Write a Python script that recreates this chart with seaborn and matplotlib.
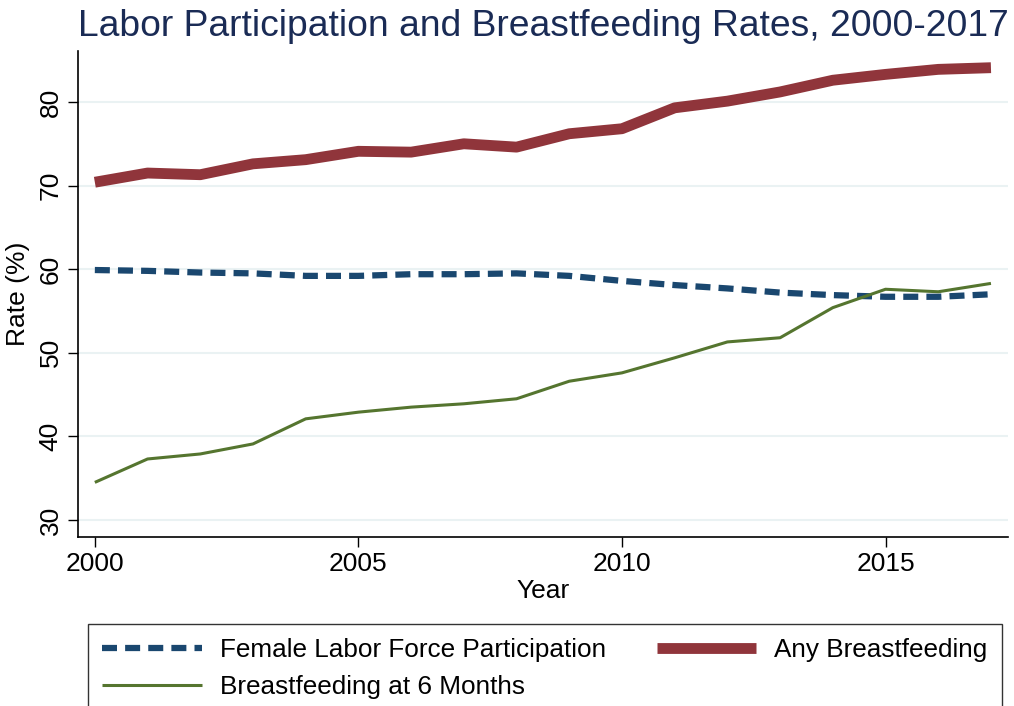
import numpy as np
import pandas as pd
import matplotlib
matplotlib.use('Agg')
import matplotlib.pyplot as plt
import seaborn as sns

years = list(range(2000, 2018))
labor_force = [59.9, 59.8, 59.6, 59.5, 59.2, 59.2, 59.4, 59.4, 59.5,
               59.2, 58.6, 58.1, 57.7, 57.2, 56.9, 56.7, 56.7, 57.0]
any_bf = [70.4, 71.5, 71.3, 72.6, 73.1, 74.1, 74.0, 75.0, 74.6,
          76.2, 76.8, 79.3, 80.1, 81.2, 82.6, 83.3, 83.9, 84.1]
bf_6mo = [34.5, 37.3, 37.9, 39.1, 42.1, 42.9, 43.5, 43.9, 44.5,
          46.6, 47.6, 49.4, 51.3, 51.8, 55.4, 57.6, 57.3, 58.3]

df = pd.DataFrame({'year': years, 'labor': labor_force, 'any': any_bf, 'six': bf_6mo})

sns.set_style('white')
plt.rcParams['font.family'] = ['Liberation Sans', 'DejaVu Sans']
plt.rcParams['text.color'] = 'black'
plt.rcParams['axes.labelcolor'] = 'black'
plt.rcParams['xtick.color'] = 'black'
plt.rcParams['ytick.color'] = 'black'
plt.rcParams['lines.solid_capstyle'] = 'butt'
plt.rcParams['lines.dash_capstyle'] = 'butt'

navy = '#1a476f'
maroon = '#90353b'
green = '#55752f'

fig = plt.figure(figsize=(10.14, 7.06), dpi=100)
ax = fig.add_axes([0.0769, 0.2394, 0.917, 0.6884])

sns.lineplot(data=df, x='year', y='labor', ax=ax, color=navy, linewidth=4.5,
             label='Female Labor Force Participation')
ax.lines[-1].set_dashes((2.4, 1.3))
sns.lineplot(data=df, x='year', y='any', ax=ax, color=maroon, linewidth=7.8,
             label='Any Breastfeeding')
sns.lineplot(data=df, x='year', y='six', ax=ax, color=green, linewidth=2.2,
             label='Breastfeeding at 6 Months')
for ln in ax.lines:
    ln.set_solid_capstyle('butt')
    ln.set_dash_capstyle('butt')

ax.set_xlim(1999.68, 2017.32)
ax.set_ylim(27.97, 86.1)
ax.set_xticks([2000, 2005, 2010, 2015])
ax.set_yticks([30, 40, 50, 60, 70, 80])
ax.grid(axis='y', color='#eaf2f3', linewidth=1.5)
ax.set_axisbelow(True)
for s in ['top', 'right']:
    ax.spines[s].set_visible(False)
for s in ['left', 'bottom']:
    ax.spines[s].set_color('black')
    ax.spines[s].set_linewidth(1.2)
ax.tick_params(axis='both', which='both', direction='out', length=7, width=1,
               color='black', labelcolor='black', labelsize=19,
               left=True, bottom=True, pad=4)
plt.setp(ax.get_yticklabels(), rotation=90, va='center')
ax.set_xlabel('Year', fontsize=19, labelpad=2)
ax.set_ylabel('Rate (%)', fontsize=19, labelpad=6)
ax.set_title('Labor Participation and Breastfeeding Rates, 2000-2017',
             fontsize=26.8, color='#1a2b55', pad=11, x=0.5)

ax.get_legend().remove()
h, l = ax.get_legend_handles_labels()
order = [0, 2, 1]
leg = fig.legend([h[i] for i in order], [l[i] for i in order], ncol=2,
                 loc='upper left', bbox_to_anchor=(0.0868, -0.2, 0.9014, 0.316),
                 mode='expand', fontsize=18.8, frameon=True, fancybox=False,
                 edgecolor='black', handlelength=3.8, handletextpad=0.7,
                 labelspacing=0.48, borderpad=0.55, borderaxespad=0)
leg.get_frame().set_linewidth(1.0)

fig.savefig('out.png', dpi=100)
